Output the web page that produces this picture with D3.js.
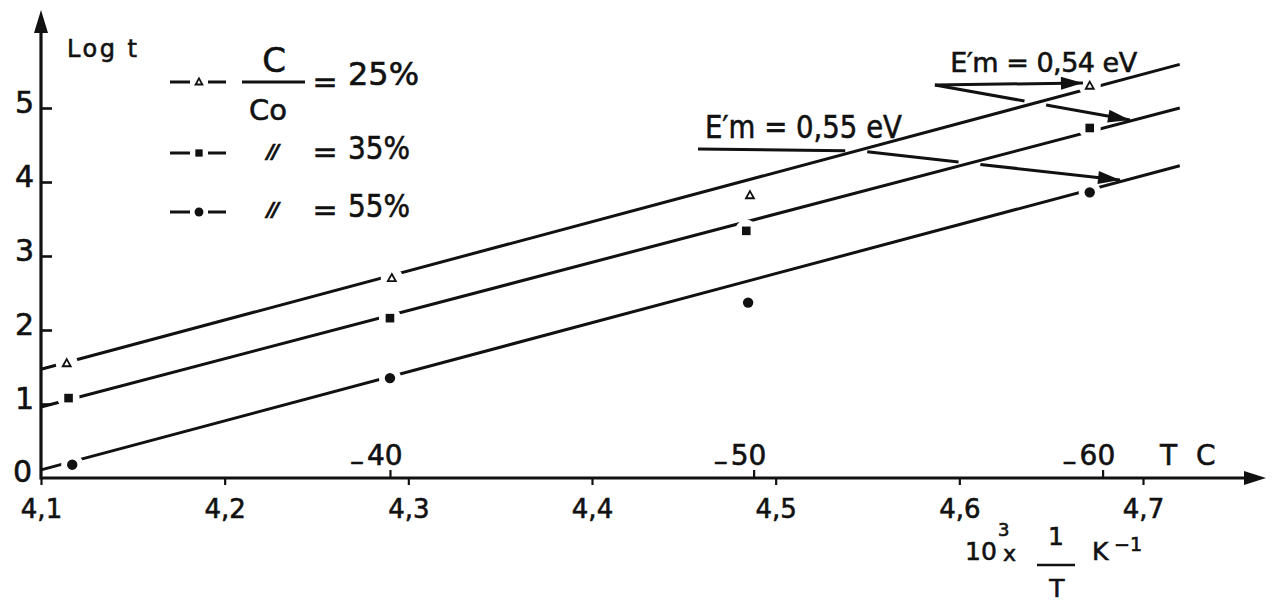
<!DOCTYPE html>
<html>
<head>
<meta charset="utf-8">
<script src="https://cdn.jsdelivr.net/npm/d3@7"></script>
<style>
  body { margin: 0; background: #fff; }
  svg { display: block; }
  text { font-family: "DejaVu Sans", "Noto Sans", sans-serif; fill: #111; stroke: #111; stroke-width: 0.6px; }
</style>
</head>
<body>
<svg id="chart" width="1272" height="602"></svg>
<script>
// ---- axis ticks -------------------------------------------------------
const invTTicks  = [4.1, 4.2, 4.3, 4.4, 4.5, 4.6, 4.7];
const invTLabels = ["4,1", "4,2", "4,3", "4,4", "4,5", "4,6", "4,7"];
const logTicks   = [0, 1, 2, 3, 4, 5];
// temperature scale (°C, negative) marked above the 1/T axis
const tempLabels = ["40", "50", "60"];
const tempPos    = [4.29, 4.488, 4.678];

// ---- measurements: log t versus 10^3/T for three C/Co ratios -------------
const seriesNames = ["25%", "35%", "55%"];
const x25 = [4.114, 4.291, 4.486, 4.671];
const y25 = [1.55, 2.70, 3.82, 5.30];
const x35 = [4.115, 4.290, 4.484, 4.671];
const y35 = [1.08, 2.16, 3.34, 4.73];
const x55 = [4.117, 4.290, 4.485, 4.671];
const y55 = [0.18, 1.35, 2.37, 3.86];

// ---- fitted straight lines (log t at both ends) -------------------------
const fitX  = [4.1, 4.72];
const fit25 = [1.47, 5.59];
const fit35 = [0.96, 5.00];
const fit55 = [0.11, 4.22];

// ---- activation energy notes -------------------------------------------
const noteTexts = ["E\u2032m = 0,54 eV", "E\u2032m = 0,55 eV"];

const series = [
  { name: seriesNames[0], xs: x25, ys: y25, fit: fit25, shape: "triangle" },
  { name: seriesNames[1], xs: x35, ys: y35, fit: fit35, shape: "square" },
  { name: seriesNames[2], xs: x55, ys: y55, fit: fit55, shape: "circle" }
];

const svg = d3.select("#chart");
const ink = "#111";
const lineW = 3;

const x = d3.scaleLinear().domain([4.1, 4.7]).range([41, 1143]);
const y = d3.scaleLinear().domain([0, 5]).range([478, 108]);

// ---- markers -----------------------------------------------------------
function drawMarker(g, shape, cx, cy, s) {
  if (shape === "triangle") {
    const r = 4.2 * s;
    g.append("path")
      .attr("d", `M${cx},${cy - r}L${cx + r * 0.95},${cy + r * 0.7}L${cx - r * 0.95},${cy + r * 0.7}Z`)
      .attr("fill", "#fff").attr("stroke", ink).attr("stroke-width", 1.8);
  } else if (shape === "square") {
    const h = 4.3 * s;
    g.append("rect").attr("x", cx - h).attr("y", cy - h)
      .attr("width", 2 * h).attr("height", 2 * h).attr("fill", ink);
  } else {
    g.append("circle").attr("cx", cx).attr("cy", cy).attr("r", 5.2 * s).attr("fill", ink);
  }
}

// ---- fitted lines ------------------------------------------------------
const fitLine = d3.line().x(d => x(d[0])).y(d => y(d[1]));
const fitG = svg.append("g");
series.forEach(s => {
  fitG.append("path")
    .datum(fitX.map((v, i) => [v, s.fit[i]]))
    .attr("d", fitLine)
    .attr("fill", "none").attr("stroke", ink).attr("stroke-width", lineW);
});

// points: white collar interrupts the line around each symbol
const ptG = svg.append("g");
series.forEach(s => {
  s.xs.forEach((xv, i) => {
    ptG.append("circle").attr("cx", x(xv)).attr("cy", y(s.ys[i]))
      .attr("r", 11).attr("fill", "#fff");
  });
});
series.forEach(s => {
  s.xs.forEach((xv, i) => drawMarker(ptG, s.shape, x(xv), y(s.ys[i]), 1));
});

// ---- axes --------------------------------------------------------------
const axG = svg.append("g");
const x0 = x(4.1), yBase = y(0);

axG.append("line").attr("x1", x0).attr("y1", yBase).attr("x2", 1248).attr("y2", yBase)
  .attr("stroke", ink).attr("stroke-width", 3.2);
axG.append("path").attr("d", `M1266,${yBase}L1244,${yBase - 7}L1244,${yBase + 7}Z`).attr("fill", ink);

axG.append("line").attr("x1", x0).attr("y1", yBase + 1.6).attr("x2", x0).attr("y2", 28)
  .attr("stroke", ink).attr("stroke-width", 3.2);
axG.append("path").attr("d", `M${x0},10L${x0 - 7},33L${x0 + 7},33Z`).attr("fill", ink);

// 1/T ticks under the axis
const xAxis = d3.axisBottom(x)
  .tickValues(invTTicks)
  .tickFormat((d, i) => invTLabels[i])
  .tickSize(7).tickPadding(15);
const gx = axG.append("g").attr("transform", `translate(0,${yBase})`).call(xAxis);
gx.select(".domain").remove();
gx.selectAll(".tick line").attr("stroke", ink).attr("stroke-width", 2.2);
gx.selectAll(".tick text").attr("font-size", 26).attr("fill", ink)
  .attr("font-family", "DejaVu Sans, sans-serif");

// log t ticks pointing into the plot
const yAxis = d3.axisLeft(y)
  .tickValues(logTicks.filter(v => v > 0))
  .tickFormat(d3.format("d"))
  .tickSize(-11).tickPadding(7);
const gy = axG.append("g").attr("transform", `translate(${x0},0)`).call(yAxis);
gy.select(".domain").remove();
gy.selectAll(".tick line").attr("stroke", ink).attr("stroke-width", 2.6);
gy.selectAll(".tick text").attr("font-size", 30).attr("dy", 4).attr("fill", ink)
  .attr("font-family", "DejaVu Sans, sans-serif");
axG.append("text").attr("x", x0 - 9).attr("y", yBase + 4)
  .attr("text-anchor", "end").attr("font-size", 30).text(logTicks[0]);

// temperature ticks above the axis
const tAxis = d3.axisTop(x).tickValues(tempPos).tickFormat("").tickSize(8);
const gt = axG.append("g").attr("transform", `translate(0,${yBase})`).call(tAxis);
gt.select(".domain").remove();
gt.selectAll(".tick line").attr("stroke", ink).attr("stroke-width", 2.2);
tempPos.forEach((p, i) => {
  const t = axG.append("text").attr("x", x(p) - 40).attr("y", yBase - 13)
    .attr("font-size", 28);
  t.append("tspan").attr("dy", 6).text("\u2013");
  t.append("tspan").attr("dy", -6).attr("dx", 3).text(tempLabels[i]);
});
axG.append("text").attr("x", 1160).attr("y", yBase - 13).attr("font-size", 28)
  .attr("letter-spacing", 5).text("T C");

// axis titles
axG.append("text").attr("x", 67).attr("y", 57).attr("font-size", 24)
  .attr("letter-spacing", 2.5).text("Log t");

const xt = axG.append("g");
xt.append("text").attr("x", 965).attr("y", 560).attr("font-size", 25).text("10");
xt.append("text").attr("x", 998).attr("y", 536).attr("font-size", 18).text("3");
xt.append("text").attr("x", 1003).attr("y", 561).attr("font-size", 22).text("x");
xt.append("text").attr("x", 1056).attr("y", 545).attr("font-size", 25).attr("text-anchor", "middle").text("1");
xt.append("line").attr("x1", 1037).attr("x2", 1075).attr("y1", 565).attr("y2", 565)
  .attr("stroke", ink).attr("stroke-width", 2.4);
xt.append("text").attr("x", 1057).attr("y", 597).attr("font-size", 25).attr("text-anchor", "middle").text("T");
xt.append("text").attr("x", 1092).attr("y", 560).attr("font-size", 25).text("K");
xt.append("text").attr("x", 1114).attr("y", 551).attr("font-size", 19).text("\u22121");

// ---- legend ------------------------------------------------------------
const lg = svg.append("g");
const rowY = [82, 153, 212];
const pctY = [85, 159, 217];
const eqY  = [92, 162, 220];
series.forEach((s, i) => {
  lg.append("line").attr("x1", 170).attr("x2", 190).attr("y1", rowY[i]).attr("y2", rowY[i])
    .attr("stroke", ink).attr("stroke-width", lineW);
  lg.append("line").attr("x1", 208).attr("x2", 226).attr("y1", rowY[i]).attr("y2", rowY[i])
    .attr("stroke", ink).attr("stroke-width", lineW);
  drawMarker(lg, s.shape, 199, rowY[i], 0.85);
  lg.append("text").attr("x", 325).attr("y", eqY[i]).attr("font-size", 30)
    .attr("text-anchor", "middle").text("=");
  lg.append("text").attr("x", 348).attr("y", pctY[i]).attr("font-size", 32)
    .attr("textLength", i === 0 ? 71 : 62).attr("lengthAdjust", "spacingAndGlyphs").text(s.name);
  if (i > 0) {
    lg.append("text").attr("x", 272).attr("y", pctY[i] - 1).attr("font-size", 20)
      .attr("font-style", "italic").attr("font-weight", "bold")
      .attr("text-anchor", "middle").attr("letter-spacing", -2).text("//");
  }
});
lg.append("text").attr("x", 274).attr("y", 72).attr("font-size", 34)
  .attr("text-anchor", "middle").text("C");
lg.append("line").attr("x1", 242).attr("x2", 305).attr("y1", 82).attr("y2", 82)
  .attr("stroke", ink).attr("stroke-width", lineW);
lg.append("text").attr("x", 268).attr("y", 120).attr("font-size", 29)
  .attr("text-anchor", "middle").text("Co");

// ---- activation-energy notes with arrows --------------------------------
const fitPix = series.map(s => fitX.map((v, i) => [x(v), y(s.fit[i])]));

function crossAt(p1, p2, q1, q2) {
  const rx = p2[0] - p1[0], ry = p2[1] - p1[1];
  const sx = q2[0] - q1[0], sy = q2[1] - q1[1];
  const den = rx * sy - ry * sx;
  if (Math.abs(den) < 1e-9) return null;
  const t = ((q1[0] - p1[0]) * sy - (q1[1] - p1[1]) * sx) / den;
  const u = ((q1[0] - p1[0]) * ry - (q1[1] - p1[1]) * rx) / den;
  return (t >= 0 && t <= 1 && u >= 0 && u <= 1) ? t : null;
}

// polyline that breaks where it passes over a fitted line, ending in a head
function noteArrow(ptsData, gap, head) {
  const pts = ptsData.map(d => [x(d[0]), y(d[1])]);
  let total = 0;
  const cuts = [];
  for (let k = 0; k < pts.length - 1; k++) {
    const a = pts[k], b = pts[k + 1];
    const len = Math.hypot(b[0] - a[0], b[1] - a[1]);
    fitPix.forEach(f => {
      const t = crossAt(a, b, f[0], f[1]);
      if (t !== null) cuts.push(total + t * len);
    });
    total += len;
  }
  const inner = cuts.filter(c => c < total - 18).sort((a, b) => a - b);
  const dash = [];
  let pos = 0;
  inner.forEach(c => {
    dash.push(Math.max(0, c - gap - pos), 2 * gap);
    pos = c + gap;
  });
  dash.push(total - pos + 5, 1000);
  svg.append("path")
    .attr("d", d3.line()(pts))
    .attr("fill", "none").attr("stroke", ink).attr("stroke-width", lineW)
    .attr("stroke-dasharray", dash.join(","));
  if (head) {
    const b = pts[pts.length - 1], a = pts[pts.length - 2];
    const L = Math.hypot(b[0] - a[0], b[1] - a[1]);
    const ux = (b[0] - a[0]) / L, uy = (b[1] - a[1]) / L;
    const bx = b[0] - ux * 22, by = b[1] - uy * 22;
    svg.append("path")
      .attr("d", `M${b[0]},${b[1]}L${bx - uy * 6.5},${by + ux * 6.5}L${bx + uy * 6.5},${by - ux * 6.5}Z`)
      .attr("fill", ink);
  }
}

noteArrow([[4.5867, 5.311], [4.6673, 5.338]], 11, true);
noteArrow([[4.5867, 5.311], [4.6929, 4.838]], 11, true);
noteArrow([[4.4577, 4.446], [4.5459, 4.419], [4.6875, 4.027]], 11, true);

svg.append("text").attr("x", x(4.595)).attr("y", y(5.486)).attr("font-size", 27)
  .attr("textLength", 187).attr("lengthAdjust", "spacing").text(noteTexts[0]);
svg.append("text").attr("x", x(4.4615)).attr("y", y(4.595)).attr("font-size", 32)
  .attr("textLength", 197).attr("lengthAdjust", "spacingAndGlyphs").text(noteTexts[1]);
</script>
</body>
</html>
